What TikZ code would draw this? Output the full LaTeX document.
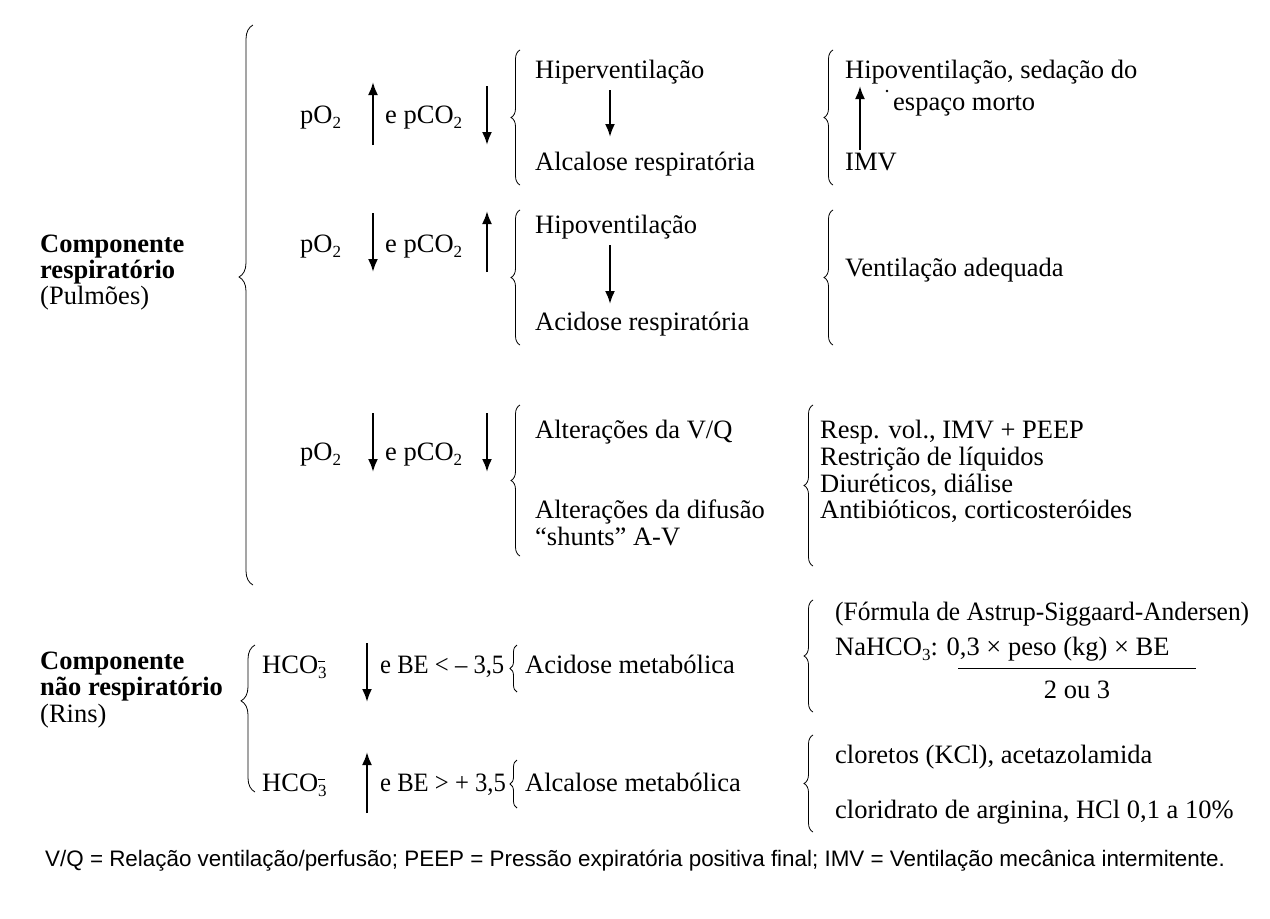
\documentclass[tikz,border=0pt]{standalone}
\usepackage{fontspec}
\setmainfont{Liberation Serif}
\newfontfamily\footfont{Liberation Sans}
\usetikzlibrary{arrows.meta,decorations.pathreplacing}
\newcommand{\sub}[1]{\raisebox{-5pt}{\fontsize{17}{17}\selectfont #1}}
\newcommand{\hco}{HCO\rlap{\raisebox{11pt}{\rule{7pt}{1pt}}}\sub{3}}
\begin{document}
\begin{tikzpicture}[x=1pt,y=-1pt,
  txt/.style={anchor=base west,inner sep=0pt,font=\fontsize{26.5}{27}\selectfont},
  brc/.style={decorate,decoration={brace,amplitude=#1},line width=0.8pt},
  brc/.default=9pt,
  ar/.style={line width=2.2pt,-{Latex[length=13pt,width=10pt]}}]
\path[use as bounding box,fill=white] (0,0) rectangle (1270,919);

% left labels
\node[txt] (c1) at (40,252) {\bfseries Componente};
\node[txt] (c2) at (40,278) {\bfseries respiratório};
\node[txt] (c3) at (40,304) {(Pulmões)};
\node[txt] (n1) at (40,669) {\bfseries Componente};
\node[txt] (n2) at (40,695) {\bfseries não respiratório};
\node[txt] (n3) at (40,722) {(Rins)};

% big braces
\draw[brc=14pt,decoration={aspect=0.55}] (253,585) -- (253,25);
\draw[brc=14pt,decoration={aspect=0.62}] (255,792) -- (255,645);

% row 1
\node[txt] (r1a) at (300,123) {pO\sub{2}};
\node[txt] (r1b) at (385,123) {e pCO\sub{2}};
\draw[ar] (373,145) -- (373,82);
\draw[ar] (487,86) -- (487,145);
\draw[brc] (520,185) -- (520,50);
\node[txt] (hiper) at (535,78) {Hiperventilação};
\node[txt] (alcr) at (535,170) {Alcalose respiratória};
\coordinate (h1) at (610,90);
\coordinate (h2) at (610,137);
\draw[ar] (h1) -- (h2);
\draw[brc] (833,185) -- (833,50);
\node[txt] (hipo1) at (845,78) {Hipoventilação, sedação do};
\node[txt] (esp) at (893,110) {espaço morto};
\node[txt] (imv) at (845,170) {IMV};
\coordinate (i1) at (860,150);
\coordinate (i2) at (860,86);
\draw[ar] (i1) -- (i2);
\fill (887,91) circle (1.3);

% row 2
\node[txt] (r2a) at (300,252) {pO\sub{2}};
\node[txt] (r2b) at (385,252) {e pCO\sub{2}};
\draw[ar] (373,213) -- (373,272);
\draw[ar] (487,272) -- (487,211);
\draw[brc] (520,345) -- (520,210);
\node[txt] (hipo2) at (535,233) {Hipoventilação};
\node[txt] (acr) at (535,330) {Acidose respiratória};
\coordinate (a1) at (610,245);
\coordinate (a2) at (610,304);
\draw[ar] (a1) -- (a2);
\draw[brc] (833,345) -- (833,210);
\node[txt] (vent) at (845,276) {Ventilação adequada};

% row 3
\node[txt] (r3a) at (300,460) {pO\sub{2}};
\node[txt] (r3b) at (385,460) {e pCO\sub{2}};
\draw[ar] (373,413) -- (373,472);
\draw[ar] (487,413) -- (487,472);
\draw[brc] (520,556) -- (520,405);
\node[txt] (vq) at (535,438) {Alterações da V/Q};
\node[txt] (dif) at (535,518) {Alterações da difusão};
\node[txt] (sh) at (535,545) {“shunts” A-V};
\draw[brc] (813,566) -- (813,405);
\node[txt] (t1) at (820,438) {Resp. vol., IMV + PEEP};
\node[txt] (t2) at (820,465) {Restrição de líquidos};
\node[txt] (t3) at (820,492) {Diuréticos, diálise};
\node[txt] (t4) at (820,518) {Antibióticos, corticosteróides};

% lower: acidose metabolica
\node[txt] (m1a) at (262,673) {\hco};
\draw[ar] (367,643) -- (367,702);
\node[txt] (m1b) at (380,673) {\scalebox{0.93}[1]{e BE < – 3,5}};
\draw[brc=7pt] (517,692) -- (517,645);
\node[txt] (acm) at (525,673) {Acidose metabólica};
\draw[brc] (813,712) -- (813,600);
\node[txt] (f1) at (835,620) {\scalebox{0.96}[1]{(Fórmula de Astrup-Siggaard-Andersen)}};
\node[txt] (f2) at (835,655) {NaHCO\sub{3}: 0,3 × peso (kg) × BE};
\coordinate (fl1) at (958,668);
\coordinate (fl2) at (1196,668);
\draw[line width=1pt] (fl1) -- (fl2);
\node[txt,anchor=base] (f3) at (1077,698) {2 ou 3};

% lower: alcalose metabolica
\node[txt] (m2a) at (262,791) {\hco};
\draw[ar] (367,813) -- (367,752);
\node[txt] (m2b) at (380,791) {\scalebox{0.93}[1]{e BE > + 3,5}};
\draw[brc=7pt] (517,808) -- (517,760);
\node[txt] (alm) at (525,791) {Alcalose metabólica};
\draw[brc] (813,832) -- (813,735);
\node[txt] (k1) at (835,763) {cloretos (KCl), acetazolamida};
\node[txt] (k2) at (835,818) {cloridrato de arginina, HCl 0,1 a 10\%};

% footer
\node[anchor=base west,inner sep=0pt] (foot) at (45,866) {\footfont\fontsize{22.4}{24}\selectfont V/Q = Relação ventilação/perfusão; PEEP = Pressão expiratória positiva final; IMV = Ventilação mecânica intermitente.};
\end{tikzpicture}
\end{document}
